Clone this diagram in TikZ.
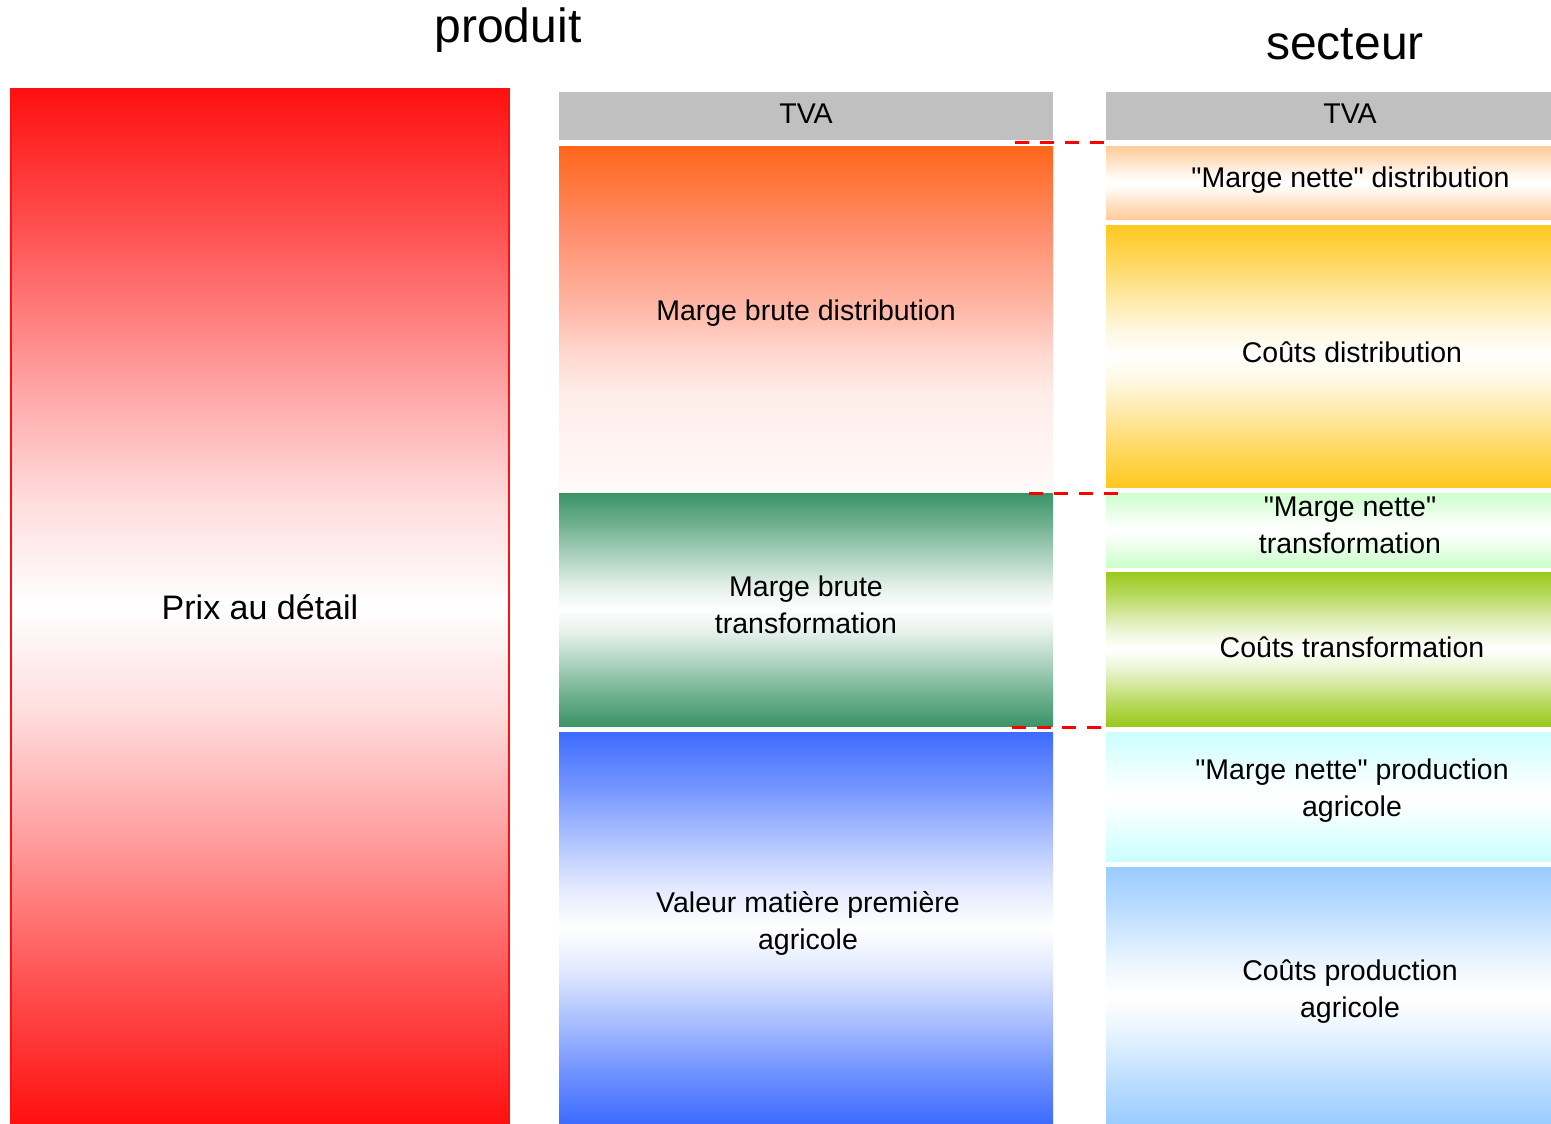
\documentclass[tikz,border=0pt]{standalone}
\usepackage{fontspec}
\setmainfont{Liberation Sans}[Ligatures=TeXOff]
\definecolor{cred}{HTML}{FF1010}
\definecolor{cgray}{HTML}{C0C0C0}
\definecolor{cgreen}{HTML}{3B9466}
\definecolor{cblue}{HTML}{3D6BFF}
\definecolor{cpeach}{HTML}{FFCC99}
\definecolor{cyellow}{HTML}{FFC820}
\definecolor{clgreen}{HTML}{CCFFCC}
\definecolor{clime}{HTML}{99C91A}
\definecolor{ccyan}{HTML}{CCFFFF}
\definecolor{clblue}{HTML}{99CCFF}
\definecolor{corange}{HTML}{FF6619}
\definecolor{corA}{HTML}{FF8C6A}
\definecolor{corB}{HTML}{FFB8A8}
\definecolor{corBC}{HTML}{FFD6CE}
\definecolor{corC}{HTML}{FFECE8}
\definecolor{corD}{HTML}{FFF9F8}
% symmetric shadings, eased towards white in the middle
\newcommand{\symshade}[2]{%
  \pgfdeclareverticalshading{#1}{100bp}{color(0bp)=(#2); color(25bp)=(#2); color(32bp)=(#2!72!white); color(39bp)=(#2!40!white); color(45bp)=(#2!14!white); color(50bp)=(white); color(55bp)=(#2!14!white); color(61bp)=(#2!40!white); color(68bp)=(#2!72!white); color(75bp)=(#2); color(100bp)=(#2)}}
\symshade{shred}{cred}
\symshade{shgreen}{cgreen}
\symshade{shblue}{cblue}
\symshade{shpeach}{cpeach}
\symshade{shyellow}{cyellow}
\symshade{shlgreen}{clgreen}
\symshade{shlime}{clime}
\symshade{shcyan}{ccyan}
\symshade{shlblue}{clblue}
\pgfdeclareverticalshading{shorange}{100bp}{color(0bp)=(corD); color(25bp)=(corD); color(32bp)=(corD!50!corC); color(39bp)=(corC); color(45bp)=(corBC); color(51bp)=(corB); color(63bp)=(corA); color(75bp)=(corange); color(100bp)=(corange)}
\tikzset{
  x=1pt, y=-1pt,
  boxtext/.style={font=\fontsize{28.5}{37}\selectfont, align=center, inner sep=0pt},
  bar/.style={inner sep=0pt, minimum width=#1, anchor=center},
  sep/.style={draw=red, line width=3pt, dash pattern=on 14pt off 11pt},
  title/.style={font=\fontsize{48}{52}\selectfont}
}
\begin{document}
\begin{tikzpicture}
\useasboundingbox (0,0) rectangle (1551,1124);
% titles
\node[title] (tprod) at (508,30) {produit};
\node[title] (tsect) at (1345,44) {secteur};
% retail price
\node[draw=cred, line width=1.2pt, shading=shred, inner sep=0pt, minimum width=498pt, minimum height=1035pt] (prix) at (260,606.5) {};
\node[font=\fontsize{34}{40}\selectfont, inner sep=0pt] (prixt) at ([yshift=-1pt]prix.center) {Prix au détail};
% product column
\node[fill=cgray, bar=494pt, minimum height=48pt] (tva1) at (806,116) {};
\node[shading=shorange, bar=494pt, minimum height=342pt] (mbd) at (806,317) {};
\node[shading=shgreen, bar=494pt, minimum height=233pt] (mbt) at (806,609.5) {};
\node[shading=shblue, bar=494pt, minimum height=392pt] (vmp) at (806,928) {};
\node[boxtext] at ([yshift=2pt]tva1.center) {TVA};
\node[boxtext] at ([yshift=4pt]mbd.center) {Marge brute distribution};
\node[boxtext] at ([yshift=5pt]mbt.center) {Marge brute\\transformation};
\node[boxtext] at ([yshift=5pt,xshift=2pt]vmp.center) {Valeur matière première\\agricole};
% sector column
\node[fill=cgray, bar=445pt, minimum height=48pt] (tva2) at (1328.5,116) {};
\node[shading=shpeach, bar=445pt, minimum height=73pt] (mnd) at (1328.5,182.5) {};
\node[shading=shyellow, bar=445pt, minimum height=262pt] (cd) at (1328.5,356) {};
\node[shading=shlgreen, bar=445pt, minimum height=74pt] (mnt) at (1328.5,530) {};
\node[shading=shlime, bar=445pt, minimum height=154pt] (ct) at (1328.5,649) {};
\node[shading=shcyan, bar=445pt, minimum height=129pt] (mnp) at (1328.5,796.5) {};
\node[shading=shlblue, bar=445pt, minimum height=257pt] (cp) at (1328.5,995.5) {};
\node[boxtext] at ([yshift=2pt,xshift=21.5pt]tva2.center) {TVA};
\node[boxtext] at ([yshift=2pt,xshift=22pt]mnd.center) {"Marge nette" distribution};
\node[boxtext] at ([yshift=4pt,xshift=23.5pt]cd.center) {Coûts distribution};
\node[boxtext] at ([yshift=5pt,xshift=21.5pt]mnt.center) {"Marge nette"\\transformation};
\node[boxtext] at ([yshift=2pt,xshift=23.5pt]ct.center) {Coûts transformation};
\node[boxtext] at ([yshift=6pt,xshift=23.5pt]mnp.center) {"Marge nette" production\\agricole};
\node[boxtext] at ([yshift=4pt,xshift=21.5pt]cp.center) {Coûts production\\agricole};
% dashed separators
\coordinate (d1a) at (1015,142); \coordinate (d1b) at (1106,142);
\coordinate (d2a) at (1029,493); \coordinate (d2b) at (1119,493);
\coordinate (d3a) at (1012,727); \coordinate (d3b) at (1103,727);
\draw[sep] (d1a) -- (d1b);
\draw[sep] (d2a) -- (d2b);
\draw[sep] (d3a) -- (d3b);
\end{tikzpicture}
\end{document}
